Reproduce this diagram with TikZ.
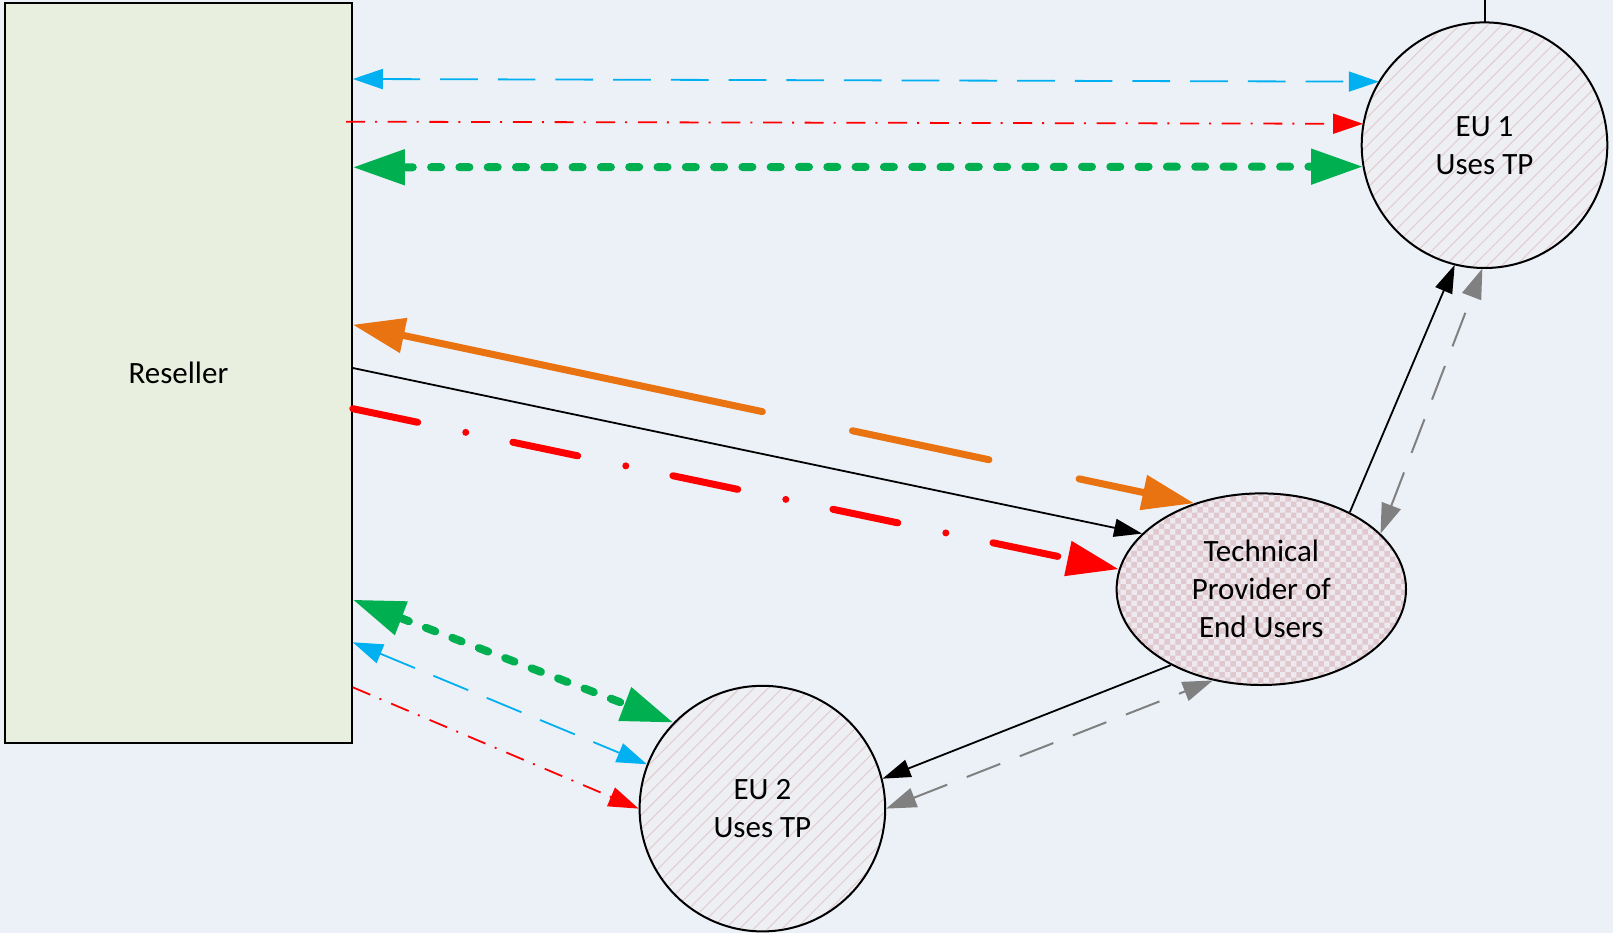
\documentclass[tikz,border=0pt]{standalone}
\usepackage{fontspec}
\setmainfont{Carlito}
\usetikzlibrary{arrows.meta,shapes.geometric,patterns,patterns.meta,calc}
\definecolor{bgc}{HTML}{ECF1F8}
\definecolor{resfill}{HTML}{E8EFDE}
\definecolor{eufill}{HTML}{EDEFF3}
\definecolor{hatchc}{HTML}{E2CDD1}
\definecolor{tpfill}{HTML}{EEE9EE}
\definecolor{tpcheck}{HTML}{DFC8CE}
\definecolor{cyanc}{HTML}{00B0F0}
\definecolor{redc}{HTML}{FF0000}
\definecolor{greenc}{HTML}{00B050}
\definecolor{orangec}{HTML}{EA7311}
\definecolor{grayc}{HTML}{808080}
\tikzset{
  thinTip/.tip={Triangle[length=30pt,width=20pt]},
  bigTip/.tip={Triangle[length=52pt,width=34pt]},
  blkTip/.tip={Triangle[length=28pt,width=18pt]},
  txt/.style={font=\fontsize{31pt}{38pt}\selectfont, align=center, text=black},
  rectbox/.style={txt, rectangle, draw=black, line width=2pt, fill=resfill,
    minimum width=346.7pt, minimum height=739.6pt, inner sep=0pt},
  eucircle/.style={txt, circle, draw=black, line width=2pt,
    preaction={fill=eufill},
    pattern={Lines[angle=45,distance=10pt,line width=1.1pt]}, pattern color=hatchc,
    minimum size=245.6pt, inner sep=0pt},
  tpell/.style={txt, ellipse, draw=black, line width=2pt,
    preaction={fill=tpfill},
    pattern=checkerboard, pattern color=tpcheck,
    minimum width=289.4pt, minimum height=191.6pt, inner sep=0pt},
  cyanline/.style={draw=cyanc, line width=1.8pt, dash pattern=on 37.7pt off 20pt},
  redthin/.style={draw=redc, line width=1.8pt, dash pattern=on 19pt off 10pt on 2pt off 10.7pt},
  greenline/.style={draw=greenc, line width=8pt, line cap=round, dash pattern=on 10pt off 18.3pt},
  orangeline/.style={draw=orangec, line width=7pt, line cap=round,
    dash pattern=on 67.4pt off 92.2pt on 139.5pt off 92.1pt on 2000pt off 10pt},
  redthick/.style={draw=redc, line width=7pt, line cap=round,
    dash pattern=on 66.3pt off 49.1pt on 0pt off 48.1pt},
  blackline/.style={draw=black, line width=1.8pt},
  grayline/.style={draw=grayc, line width=2pt, dash pattern=on 36pt off 21pt}
}
\begin{document}
\begin{tikzpicture}[x=1pt,y=-1pt]
\useasboundingbox (0,0) rectangle (1613,933);
\fill[bgc] (0,0) rectangle (1613,933);

% nodes
\node[rectbox] (res) at (178.45,372.9) {Reseller};
\node[eucircle] (eu1) at (1484.5,145.2) {EU 1\\Uses TP};
\node[eucircle] (eu2) at (762.4,808.6) {EU 2\\Uses TP};
\node[tpell] (tp) at (1261.3,589.2) {Technical\\Provider of\\End Users};

% connector ends on the Reseller's right side
\coordinate (rBlueT)  at ($(res.north east)+(0,76.9)$);
\coordinate (rRedT)   at ($(res.north east)+(-6.8,119.6)$);
\coordinate (rGreenT) at ($(res.north east)+(0,165.2)$);
\coordinate (rOrange) at ($(res.north east)+(0,322.6)$);
\coordinate (rBlack)  at ($(res.north east)+(0,365.9)$);
\coordinate (rRedM)   at ($(res.north east)+(0,406.6)$);
\coordinate (rGreenB) at ($(res.north east)+(0,597.6)$);
\coordinate (rBlueB)  at ($(res.north east)+(0,640.2)$);
\coordinate (rRedB)   at ($(res.north east)+(0,685.2)$);

% line above EU 1
\draw[black, line width=2pt] (eu1.north) -- ++(0,-23);

% top connectors
\draw[cyanline, thinTip-thinTip] (rBlueT) -- (eu1.149);
\draw[redthin, -thinTip] (rRedT) -- (eu1.170);
\draw[greenline, bigTip-bigTip] (rGreenT) -- (eu1.190);

% middle connectors
\draw[orangeline, bigTip-bigTip] (tp.128) -- (rOrange);
\draw[blackline, -blkTip] (rBlack) -- (tp.155);
\draw[redthick, -bigTip] (rRedM) -- (tp.172);

% TP and EU 1
\draw[blackline, -blkTip] (tp.41) -- (eu1.256);
\draw[grayline, thinTip-thinTip] (tp.25) -- (eu1.269);

% TP and EU 2
\draw[blackline, -blkTip] (tp.220) -- (eu2.14);
\draw[grayline, thinTip-thinTip] (eu2.0) -- (tp.242);

% bottom connectors
\draw[greenline, bigTip-bigTip] (rGreenB) -- (eu2.136);
\draw[cyanline, thinTip-thinTip] (rBlueB) -- (eu2.159);
\draw[redthin, -thinTip] (rRedB) -- (eu2.180);
\end{tikzpicture}
\end{document}
